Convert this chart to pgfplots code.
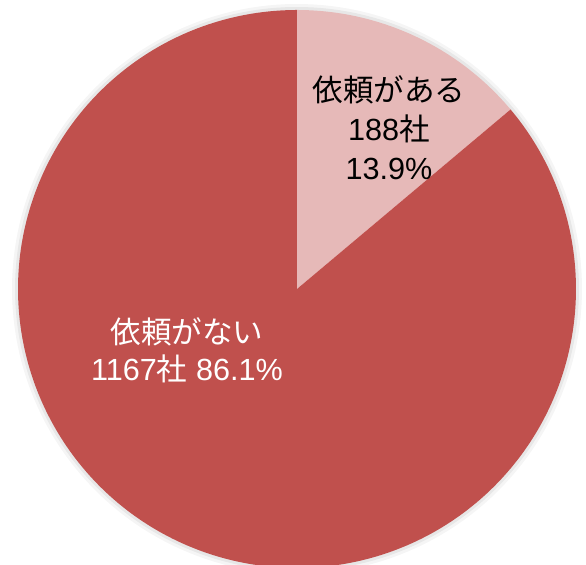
\documentclass[border=0pt]{standalone}
\usepackage{pgfplots}
\pgfplotsset{compat=1.18}
\usepackage{fontspec}
\setmainfont{Liberation Sans}
\newfontfamily\cjk{Noto Sans CJK JP}
\definecolor{darkred}{HTML}{C0504D}
\definecolor{lightpink}{HTML}{E6B9B8}
\def\vA{188}
\def\vB{1167}
\pgfmathsetmacro\angA{360*(\vA/(\vA+\vB))}
\begin{document}
\begin{tikzpicture}
\path[use as bounding box] (0,0) rectangle (293pt,282.5pt);
\begin{axis}[at={(0,0)}, anchor=south west, scale only axis,
  width=293pt, height=282.5pt, xmin=0, xmax=586, ymin=0, ymax=565,
  hide axis, clip=true]
% soft shadow
\addplot[draw=black, opacity=0.04, line width=4pt, domain=0:360, samples=200, variable=\t]
  ({297+281*cos(t)},{276+281*sin(t)});
\addplot[draw=black, opacity=0.06, line width=2pt, domain=0:360, samples=200, variable=\t]
  ({297+280*cos(t)},{276+280*sin(t)});
% slice 1: 依頼がある
\addplot[fill=lightpink, draw=none, domain={90-\angA}:90, samples=100, variable=\t]
  ({297+279*cos(t)},{276+279*sin(t)}) -- (axis cs:297,276) -- cycle;
% slice 2: 依頼がない
\addplot[fill=darkred, draw=none, domain=-270:{90-\angA}, samples=300, variable=\t]
  ({297+279*cos(t)},{276+279*sin(t)}) -- (axis cs:297,276) -- cycle;
\node[align=center, text=black, font=\fontsize{15.3}{19.5}\selectfont] at (axis cs:389,437)
  {{\cjk 依頼がある}\\188{\cjk 社}\\13.9\%};
\node[align=center, text=white, font=\fontsize{15.3}{18.5}\selectfont] at (axis cs:187,215)
  {{\cjk 依頼がない}\\1167{\cjk 社} 86.1\%};
\end{axis}
\end{tikzpicture}
\end{document}
